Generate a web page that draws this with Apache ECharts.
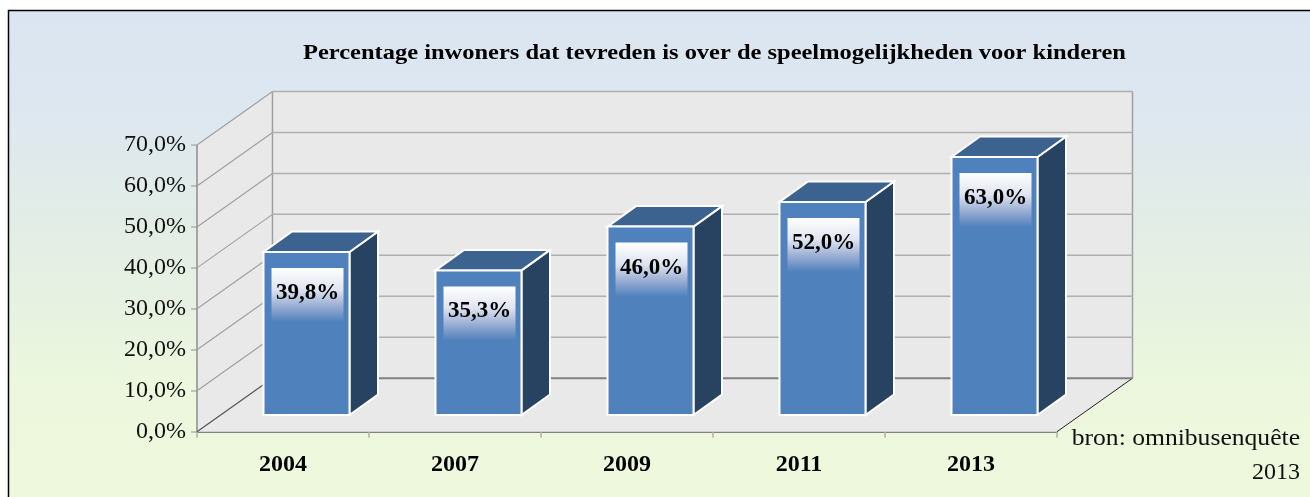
<!DOCTYPE html>
<html><head><meta charset="utf-8">
<style>html,body{margin:0;padding:0;background:#fff}#c{width:1310px;height:497px}</style>
<script src="https://cdn.jsdelivr.net/npm/echarts@6/dist/echarts.min.js"></script>
</head><body><div id="c"></div>
<script>
const categories = ['2004','2007','2009','2011','2013'];
const values = [39.8,35.3,46.0,52.0,63.0];
const yTicks = [0,10,20,30,40,50,60,70];
const titleText = 'Percentage inwoners dat tevreden is over de speelmogelijkheden voor kinderen';
const sourceLines = ['bron: omnibusenquête','2013'];

const SERIF = '"Liberation Serif", serif';
const DEPTH_X = 75.5, DEPTH_Y = -53.5;
const fmt = v => v.toFixed(1).replace('.', ',') + '%';
const chart = echarts.init(document.getElementById('c'), null, {renderer:'canvas'});

function wallItem(params, api){
  const v = api.value(0);
  const cs = params.coordSys;
  const y = api.coord([0, v])[1];
  const x0 = cs.x, x1 = cs.x + cs.width;
  const yb = cs.y + cs.height, yt = cs.y;
  const ch = [];
  const wall = {fill:'#e9e9e9'};
  if (params.dataIndex === 0) {
    ch.push({type:'polygon',shape:{points:[[x0,yt],[x0+DEPTH_X,yt+DEPTH_Y],[x0+DEPTH_X,yb+DEPTH_Y],[x0,yb]]},style:wall});
    ch.push({type:'rect',shape:{x:x0+DEPTH_X,y:yt+DEPTH_Y,width:cs.width,height:cs.height},style:wall});
    ch.push({type:'polygon',shape:{points:[[x0,yb],[x1,yb],[x1+DEPTH_X,yb+DEPTH_Y],[x0+DEPTH_X,yb+DEPTH_Y]]},style:wall});
    const g = {stroke:'#a0a0a0',lineWidth:1.5};
    ch.push({type:'line',shape:{x1:x0,y1:yt,x2:x0,y2:yb},style:{stroke:'#8c8c8c',lineWidth:1.5}});
    ch.push({type:'line',shape:{x1:x0+DEPTH_X,y1:yt+DEPTH_Y,x2:x0+DEPTH_X,y2:yb+DEPTH_Y},style:g});
    ch.push({type:'line',shape:{x1:x1+DEPTH_X,y1:yt+DEPTH_Y,x2:x1+DEPTH_X,y2:yb+DEPTH_Y},style:g});
    ch.push({type:'line',shape:{x1:x1,y1:yb,x2:x1+DEPTH_X,y2:yb+DEPTH_Y},style:{stroke:'#222',lineWidth:1}});
  }
  const dark = v === 0;
  ch.push({type:'line',shape:{x1:x0,y1:y,x2:x0+DEPTH_X,y2:y+DEPTH_Y},style:{stroke:dark?'#555':'#a0a0a0',lineWidth:1.2}});
  ch.push({type:'line',shape:{x1:x0+DEPTH_X,y1:y+DEPTH_Y,x2:x1+DEPTH_X,y2:y+DEPTH_Y},style:{stroke:dark?'#808080':'#b0b0b0',lineWidth:dark?2:1.5}});
  return {type:'group',children:ch};
}

function barItem(params, api){
  const c = api.coord([api.value(0), api.value(1)]);
  const z = api.coord([api.value(0), 0]);
  const FX = 23.5, FY = -16.7, W = 86, DX = 28.5, DY = -20.5;
  const l = c[0] + FX - W/2, r = l + W, t = c[1] + FY, b = z[1] + FY;
  const edge = {stroke:'#fff',lineWidth:2,lineJoin:'miter'};
  const lx = l + 8, lw = W - 14, ly = t + 16, lh = 54;
  return {type:'group',children:[
    {type:'polygon',shape:{points:[[r,t],[r+DX,t+DY],[r+DX,b+DY],[r,b]]},style:{fill:'#284262',...edge}},
    {type:'polygon',shape:{points:[[l,t],[l+DX,t+DY],[r+DX,t+DY],[r,t]]},style:{fill:'#3c638f',...edge}},
    {type:'rect',shape:{x:l,y:t,width:W,height:b-t},style:{fill:'#4f81bd',...edge}},
    {type:'rect',shape:{x:lx,y:ly,width:lw,height:lh},style:{fill:new echarts.graphic.LinearGradient(0,0,0,1,[
      {offset:0,color:'#ffffff'},{offset:0.4,color:'#dfe4f0'},{offset:0.75,color:'#8fa6cf'},{offset:1,color:'#4f81bd'}])}},
    {type:'text',style:{x:lx+lw/2,y:ly+25,text:fmt(api.value(1)),align:'center',verticalAlign:'middle',
      font:'bold 23px '+SERIF,fill:'#000'}}
  ]};
}

chart.setOption({
  animation:false,
  backgroundColor:'#fff',
  grid:{left:197,right:253,top:145,bottom:65.3,containLabel:false},
  xAxis:{type:'category',data:categories,
    axisLine:{show:true,lineStyle:{color:'#808080',width:2}},
    axisTick:{show:true,alignWithLabel:false,length:6,lineStyle:{color:'#b0b0b0',width:1.5}},
    axisLabel:{fontFamily:SERIF,fontWeight:'bold',fontSize:24,color:'#000',margin:21},
    splitLine:{show:false}},
  yAxis:{type:'value',min:0,max:70,interval:10,
    axisLine:{show:false},
    axisTick:{show:true,length:6,lineStyle:{color:'#b0b0b0',width:1.5}},
    axisLabel:{fontFamily:SERIF,fontSize:24,color:'#111',margin:11,formatter:v=>fmt(v)},
    splitLine:{show:false}},
  graphic:[
    {type:'rect',z:-10,shape:{x:8.5,y:10.5,width:1320,height:500},
     style:{stroke:'#000',lineWidth:1.5,fill:new echarts.graphic.LinearGradient(0,0,0,1,[
      {offset:0,color:'#dbe5f1'},{offset:0.2,color:'#dde7f0'},{offset:0.35,color:'#e1ebe9'},{offset:0.55,color:'#e6f0e3'},{offset:0.75,color:'#ecf7dd'},{offset:1,color:'#eef8dc'}])}},
    {type:'text',z:10,x:303,y:54,scaleX:1.165,style:{text:titleText,font:'bold 21px '+SERIF,fill:'#000',verticalAlign:'middle'}},
    {type:'text',z:10,x:1300,y:439,scaleX:1.067,style:{text:sourceLines[0],font:'24px '+SERIF,fill:'#111',align:'right',verticalAlign:'middle'}},
    {type:'text',z:10,x:1300,y:473,style:{text:sourceLines[1],font:'24px '+SERIF,fill:'#111',align:'right',verticalAlign:'middle'}}
  ],
  series:[
    {type:'custom',name:'wanden',coordinateSystem:'cartesian2d',clip:false,z:1,silent:true,
     encode:{x:-1,y:0},data:yTicks.map(v=>[v]),renderItem:wallItem},
    {type:'custom',name:'tevreden',coordinateSystem:'cartesian2d',clip:false,z:3,
     encode:{x:0,y:1},data:values.map((v,i)=>[i,v]),renderItem:barItem}
  ]
});
</script></body></html>
